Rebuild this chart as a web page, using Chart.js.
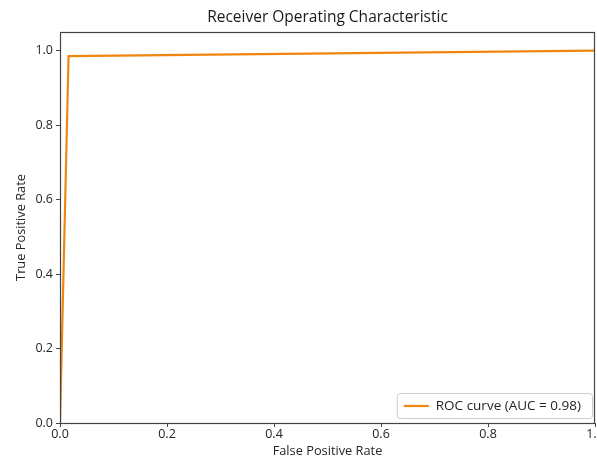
<!DOCTYPE html>
<html>
<head>
<meta charset="utf-8">
<script src="https://cdn.jsdelivr.net/npm/chart.js@4"></script>
<style>
  html, body { margin: 0; padding: 0; background: #fff; }
  #wrap { width: 597px; height: 459px; }
</style>
</head>
<body>
<div id="wrap"><canvas id="roc" width="597" height="459"></canvas></div>
<script>
// ROC curve points
const fpr = [0, 0.016, 1.0];
const tpr = [0, 0.985, 1.0];
const xTicks = [0, 0.2, 0.4, 0.6, 0.8, 1.0];
const yTicks = [0, 0.2, 0.4, 0.6, 0.8, 1.0];
const curveLabel = 'ROC curve (AUC = 0.98)';
const chartTitle = 'Receiver Operating Characteristic';

const FONT = '"Open Sans", "DejaVu Sans", sans-serif';
const TEXT = '#262626';

// box around the plot area, like matplotlib spines
const frame = {
    id: 'frame',
    afterDraw(chart) {
        const a = chart.chartArea, ctx = chart.ctx;
        ctx.save();
        ctx.strokeStyle = '#444';
        ctx.lineWidth = 1.2;
        ctx.strokeRect(a.left + 0.5, a.top + 0.5, a.right - a.left - 1, a.bottom - a.top);
        ctx.restore();
    }
};

// title centred over the plot area (matplotlib style), not the canvas
const axesTitle = {
    id: 'axesTitle',
    afterDraw(chart) {
        const a = chart.chartArea, ctx = chart.ctx;
        ctx.save();
        ctx.font = '15.5px ' + FONT;
        ctx.fillStyle = '#1a1a1a';
        ctx.textAlign = 'center';
        ctx.textBaseline = 'middle';
        ctx.fillText(chartTitle, (a.left + a.right) / 2, a.top - 14);
        ctx.restore();
    }
};

// legend box in the lower right, drawn from the dataset
const lowerRightLegend = {
    id: 'lowerRightLegend',
    afterDraw(chart) {
        const ds = chart.data.datasets[0];
        const a = chart.chartArea, ctx = chart.ctx;
        ctx.save();
        ctx.font = '13.5px ' + FONT;
        const w = ctx.measureText(ds.label).width + 50;
        const h = 25;
        const x = a.right - 3 - w, y = a.bottom - 5 - h;
        ctx.fillStyle = 'rgba(255,255,255,0.85)';
        ctx.strokeStyle = '#ccc';
        ctx.lineWidth = 1;
        ctx.beginPath();
        ctx.roundRect(x + 0.5, y + 0.5, w, h, 3);
        ctx.fill();
        ctx.stroke();
        ctx.strokeStyle = ds.borderColor;
        ctx.lineWidth = 2.2;
        ctx.beginPath();
        ctx.moveTo(x + 7, y + h / 2 + 0.5);
        ctx.lineTo(x + 32, y + h / 2 + 0.5);
        ctx.stroke();
        ctx.fillStyle = TEXT;
        ctx.textBaseline = 'middle';
        ctx.fillText(ds.label, x + 39, y + h / 2 + 1);
        ctx.restore();
    }
};

new Chart(document.getElementById('roc'), {
    type: 'scatter',
    data: {
        datasets: [{
            label: curveLabel,
            data: fpr.map((x, i) => ({ x: x, y: tpr[i] })),
            showLine: true,
            borderColor: '#f0860f',
            backgroundColor: '#f0860f',
            borderWidth: 2.2,
            pointRadius: 0,
            tension: 0
        }]
    },
    options: {
        responsive: false,
        animation: false,
        layout: { padding: { left: 0, right: 2, top: 32, bottom: 0 } },
        plugins: {
            title: { display: false },
            legend: { display: false },
            tooltip: { enabled: false }
        },
        scales: {
            x: {
                type: 'linear',
                min: 0,
                max: 1.0,
                afterBuildTicks: s => { s.ticks = xTicks.map(v => ({ value: v })); },
                afterFit: s => { s.height = 36; s.paddingRight = 0; s.paddingLeft = 0; },
                grid: { drawOnChartArea: false, drawTicks: true, tickLength: 4, color: '#444' },
                border: { display: false },
                ticks: {
                    color: TEXT,
                    font: { family: FONT, size: 12.5 },
                    padding: 0,
                    maxRotation: 0,
                    callback: v => v.toFixed(1)
                },
                title: {
                    display: true,
                    text: 'False Positive Rate',
                    color: TEXT,
                    font: { family: FONT, size: 12.8 },
                    padding: { top: 0, bottom: 0 }
                }
            },
            y: {
                type: 'linear',
                min: 0,
                max: 1.05,
                afterBuildTicks: s => { s.ticks = yTicks.map(v => ({ value: v })); },
                afterFit: s => { s.width = 60; s.paddingTop = 0; },
                grid: { drawOnChartArea: false, drawTicks: true, tickLength: 4, color: '#444' },
                border: { display: false },
                ticks: {
                    color: TEXT,
                    font: { family: FONT, size: 12.5 },
                    padding: 3,
                    callback: v => v.toFixed(1)
                },
                title: {
                    display: true,
                    text: 'True Positive Rate',
                    color: TEXT,
                    font: { family: FONT, size: 12.8 },
                    padding: { top: 14, bottom: 0 }
                }
            }
        }
    },
    plugins: [frame, axesTitle, lowerRightLegend]
});
</script>
</body>
</html>
